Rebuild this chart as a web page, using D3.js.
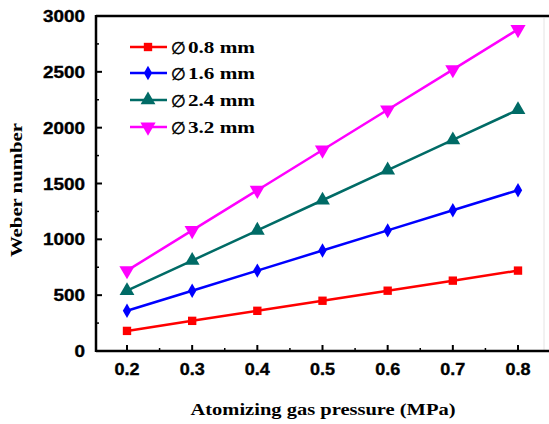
<!DOCTYPE html>
<html>
<head>
<meta charset="utf-8">
<script src="https://cdn.jsdelivr.net/npm/d3@7"></script>
<style>
  html, body { margin: 0; padding: 0; background: #fff; }
  svg { display: block; }
</style>
</head>
<body>
<svg id="chart" width="549" height="424"></svg>
<script>
// Atomizing gas pressure (MPa)
const pressures = [0.2, 0.3, 0.4, 0.5, 0.6, 0.7, 0.8];

// Weber number for each nozzle diameter
const we08 = [180, 270, 360, 450, 540, 630, 720];
const we16 = [360, 540, 720, 900, 1080, 1260, 1440];
const we24 = [540, 810, 1080, 1350, 1620, 1890, 2160];
const we32 = [720, 1080, 1440, 1800, 2160, 2520, 2880];

const seriesLabels = ["0.8", "1.6", "2.4", "3.2"];
const xTicks = [0.2, 0.3, 0.4, 0.5, 0.6, 0.7, 0.8];
const yTicks = [0, 500, 1000, 1500, 2000, 2500, 3000];

const series = [
  { label: seriesLabels[0], values: we08, color: "#ff0000", symbol: d3.symbolSquare, size: 70, rot: 0 },
  { label: seriesLabels[1], values: we16, color: "#0000ff", symbol: d3.symbolDiamond, size: 60, rot: 0 },
  { label: seriesLabels[2], values: we24, color: "#006b66", symbol: d3.symbolTriangle, size: 95, rot: 0 },
  { label: seriesLabels[3], values: we32, color: "#ff00ff", symbol: d3.symbolTriangle, size: 100, rot: 180 }
];

const svg = d3.select("#chart");
const plotL = 96, plotR = 549, plotT = 16, plotB = 351;

const x = d3.scaleLinear().domain([0.2, 0.8]).range([127, 518]);
const y = d3.scaleLinear().domain([0, 3000]).range([plotB, plotT]);

// frame: top border and faint right border
svg.append("line").attr("x1", plotL).attr("x2", plotR).attr("y1", plotT).attr("y2", plotT)
  .attr("stroke", "#000").attr("stroke-width", 2.5);
svg.append("line").attr("x1", 544).attr("x2", 544).attr("y1", plotT + 2).attr("y2", plotB)
  .attr("stroke", "#e4e4e4").attr("stroke-width", 1);

const sansBold = sel => sel
  .attr("font-family", "Liberation Sans, Arial, sans-serif")
  .attr("font-weight", "bold").attr("font-size", 16)
  .attr("stroke", "#000").attr("stroke-width", 0.35)
  .attr("lengthAdjust", "spacingAndGlyphs");

// x axis
const xAxis = svg.append("g").attr("transform", `translate(0,${plotB})`);
xAxis.append("line").attr("x1", plotL).attr("x2", plotR).attr("stroke", "#000").attr("stroke-width", 2.5);
const xMinor = d3.range(0.25, 0.8, 0.1);
xAxis.selectAll(".xmin").data(xMinor).join("line")
  .attr("x1", d => x(d)).attr("x2", d => x(d)).attr("y1", 0).attr("y2", -3)
  .attr("stroke", "#000").attr("stroke-width", 1.5);
xAxis.selectAll(".xmaj").data(xTicks).join("line")
  .attr("x1", d => x(d)).attr("x2", d => x(d)).attr("y1", 0).attr("y2", -6)
  .attr("stroke", "#000").attr("stroke-width", 2);
xAxis.selectAll(".xlab").data(xTicks).join("text")
  .attr("x", d => x(d)).attr("y", 24)
  .attr("text-anchor", "middle")
  .call(sansBold)
  .attr("textLength", 25)
  .text(d => d3.format(".1f")(d));

// y axis
const yAxis = svg.append("g").attr("transform", `translate(${plotL},0)`);
yAxis.append("line").attr("y1", plotT - 1).attr("y2", plotB + 1).attr("stroke", "#000").attr("stroke-width", 2.5);
const yMinor = d3.range(250, 3000, 500);
yAxis.selectAll(".ymin").data(yMinor).join("line")
  .attr("y1", d => y(d)).attr("y2", d => y(d)).attr("x1", 0).attr("x2", 3)
  .attr("stroke", "#000").attr("stroke-width", 1.5);
yAxis.selectAll(".ymaj").data(yTicks).join("line")
  .attr("y1", d => y(d)).attr("y2", d => y(d)).attr("x1", 0).attr("x2", 6)
  .attr("stroke", "#000").attr("stroke-width", 2);
yAxis.selectAll(".ylab").data(yTicks).join("text")
  .attr("x", -11).attr("y", d => y(d) + 6)
  .attr("text-anchor", "end")
  .call(sansBold)
  .attr("textLength", d => String(d).length * 10.5)
  .text(d => d);

// axis titles
svg.append("text")
  .attr("x", 323).attr("y", 415)
  .attr("text-anchor", "middle")
  .attr("font-family", "Liberation Serif, Times New Roman, serif")
  .attr("font-weight", "bold").attr("font-size", 16)
  .attr("textLength", 265).attr("lengthAdjust", "spacingAndGlyphs")
  .text("Atomizing gas pressure (MPa)");
svg.append("text")
  .attr("transform", "translate(22,190) rotate(-90)")
  .attr("text-anchor", "middle")
  .attr("font-family", "Liberation Serif, Times New Roman, serif")
  .attr("font-weight", "bold").attr("font-size", 17)
  .attr("textLength", 134).attr("lengthAdjust", "spacingAndGlyphs")
  .text("Weber number");

// lines and markers
const line = d3.line().x((d, i) => x(pressures[i])).y(d => y(d));
series.forEach(s => {
  svg.append("path").datum(s.values)
    .attr("d", line).attr("fill", "none")
    .attr("stroke", s.color).attr("stroke-width", 2.5);
  svg.selectAll(null).data(s.values).join("path")
    .attr("d", d3.symbol().type(s.symbol).size(s.size))
    .attr("transform", (d, i) => `translate(${x(pressures[i])},${y(d)}) rotate(${s.rot})`)
    .attr("fill", s.color);
});

// legend
const legend = svg.append("g");
const rowY = [47, 73, 100, 127];
series.forEach((s, i) => {
  const g = legend.append("g").attr("transform", `translate(0,${rowY[i]})`);
  g.append("line").attr("x1", 130).attr("x2", 167).attr("stroke", s.color).attr("stroke-width", 2.5);
  g.append("path")
    .attr("d", d3.symbol().type(s.symbol).size(s.size))
    .attr("transform", `translate(148,0) rotate(${s.rot})`)
    .attr("fill", s.color);
  // diameter sign
  g.append("text")
    .attr("x", 171).attr("y", 6.5)
    .attr("font-family", "DejaVu Sans, sans-serif")
    .attr("font-size", 17)
    .attr("stroke", "#000").attr("stroke-width", 0.5)
    .attr("textLength", 15).attr("lengthAdjust", "spacingAndGlyphs")
    .text("\u2205");
  g.append("text")
    .attr("x", 188).attr("y", 6)
    .attr("font-family", "Liberation Serif, Times New Roman, serif")
    .attr("font-weight", "bold").attr("font-size", 17)
    .attr("textLength", 67).attr("lengthAdjust", "spacingAndGlyphs")
    .text(s.label + " mm");
});
</script>
</body>
</html>
